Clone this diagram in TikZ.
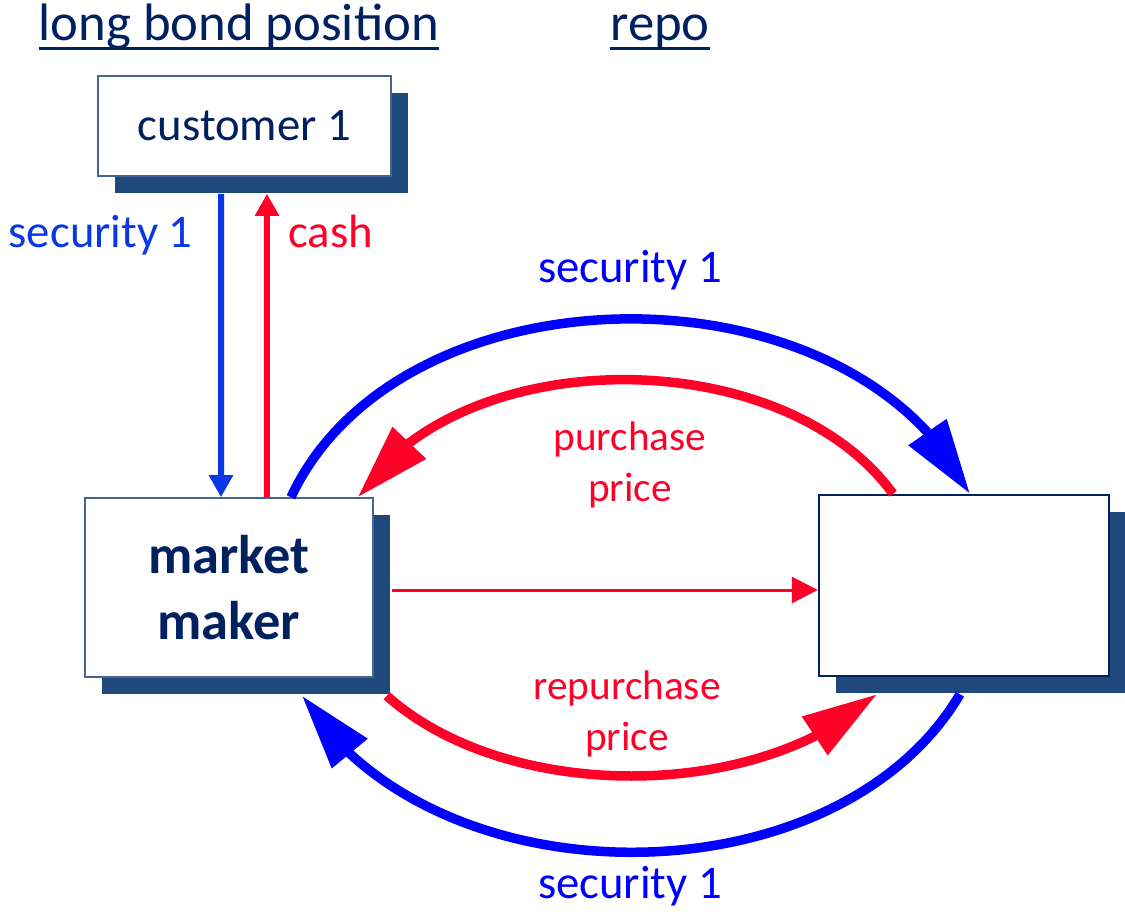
\documentclass[tikz,border=0pt]{standalone}
\usepackage{fontspec}
\setmainfont{Carlito}
\usetikzlibrary{arrows.meta, shadows, bending}
\definecolor{navy}{RGB}{0,32,96}
\definecolor{shadowblue}{RGB}{31,73,125}
\definecolor{edgeblue}{RGB}{70,100,145}
\definecolor{secblue}{RGB}{10,56,230}
\definecolor{arcblue}{RGB}{0,0,255}
\definecolor{cashred}{RGB}{255,0,40}
\newcommand{\lblfont}{\fontsize{26.6}{32}\selectfont}
\newcommand{\redfont}{\fontsize{23.5}{29}\selectfont}
\newcommand{\ttlfont}{\fontsize{30}{36}\selectfont}

\begin{document}
\begin{tikzpicture}[x=0.02cm, y=-0.02cm,
    box/.style={draw=edgeblue, line width=0.9pt, fill=white, text=navy,
      font=\lblfont, inner sep=0pt,
      drop shadow={shadow xshift=0.34cm, shadow yshift=-0.34cm, fill=shadowblue, opacity=1}},
    lbl/.style={font=\lblfont, inner sep=0pt},
    title/.style={font=\ttlfont, text=navy, inner sep=0pt, anchor=base},
    thinarrow/.style={line width=0.12cm, -{Triangle[length=0.44cm, width=0.46cm]}},
    bigarrow/.style={line width=0.19cm, -{Triangle[length=1.5cm, width=0.88cm, flex]}}]
  \useasboundingbox[fill=white] (0,0) rectangle (1125,916);

  % headings
  \node[title] (tlong) at (239,40) {long bond position};
  \node[title] (trepo) at (660,40) {repo};
  \draw[navy, line width=1.7pt] ([yshift=-4.8pt]tlong.base west) -- ([yshift=-4.8pt]tlong.base east);
  \draw[navy, line width=1.7pt] ([yshift=-4.8pt]trepo.base west) -- ([yshift=-4.8pt]trepo.base east);

  % boxes
  \node[box, minimum width=5.86cm, minimum height=2cm] (cust) at (244.5,126) {customer 1};
  \node[box, minimum width=5.76cm, minimum height=3.58cm, align=center,
    font=\fontsize{31}{37.6}\selectfont\bfseries] (mm) at (229,587.5) {market\\maker};
  \node[box, draw=navy, line width=1.4pt, minimum width=5.8cm, minimum height=3.62cm] (rb) at (964,585.5) {};

  % long bond position
  \draw[thinarrow, secblue] ([xshift=-0.47cm, yshift=-0.34cm]cust.south) -- ([xshift=-0.16cm]mm.north);
  \draw[thinarrow, cashred] ([xshift=0.76cm]mm.north) -- ([xshift=0.45cm, yshift=-0.34cm]cust.south);
  \node[lbl, secblue, anchor=base east] (lsec) at (193,247) {security 1};
  \node[lbl, cashred, anchor=base west] (lcash) at (288,247) {cash};

  % repo
  \draw[bigarrow, arcblue] ([xshift=1.24cm]mm.north)
    .. controls +(110,-236) and +(-116,-235) .. ([xshift=0.12cm]rb.north);
  \draw[bigarrow, cashred] ([xshift=-1.42cm]rb.north)
    .. controls +(-111,-153) and +(101,-156) .. ([xshift=-0.32cm]mm.north east);
  \coordinate (hstart) at ([xshift=0.36cm, yshift=-0.05cm]mm.east);
  \draw[cashred, line width=0.06cm, -{Triangle[length=0.52cm, width=0.52cm]}]
    (hstart) -- (hstart -| rb.west);
  \draw[bigarrow, cashred] ([xshift=0.26cm, yshift=-0.36cm]mm.south east)
    .. controls +(120.6,107.5) and +(-118.3,108.5) .. ([xshift=-1.74cm, yshift=-0.34cm]rb.south);
  \draw[bigarrow, arcblue] ([xshift=-0.08cm, yshift=-0.34cm]rb.south)
    .. controls +(-124.4,210.4) and +(128.8,209) .. ([xshift=1.46cm, yshift=-0.36cm]mm.south);

  \node[lbl, arcblue, anchor=base] (lsectop) at (630,282) {security 1};
  \node[lbl, arcblue, anchor=base] (lsecbot) at (630,898) {security 1};
  \node[lbl, cashred, font=\redfont, align=center] (lpp) at (630,465) {purchase\\price};
  \node[lbl, cashred, font=\redfont, align=center] (lrp) at (627,714) {repurchase\\price};
\end{tikzpicture}
\end{document}
